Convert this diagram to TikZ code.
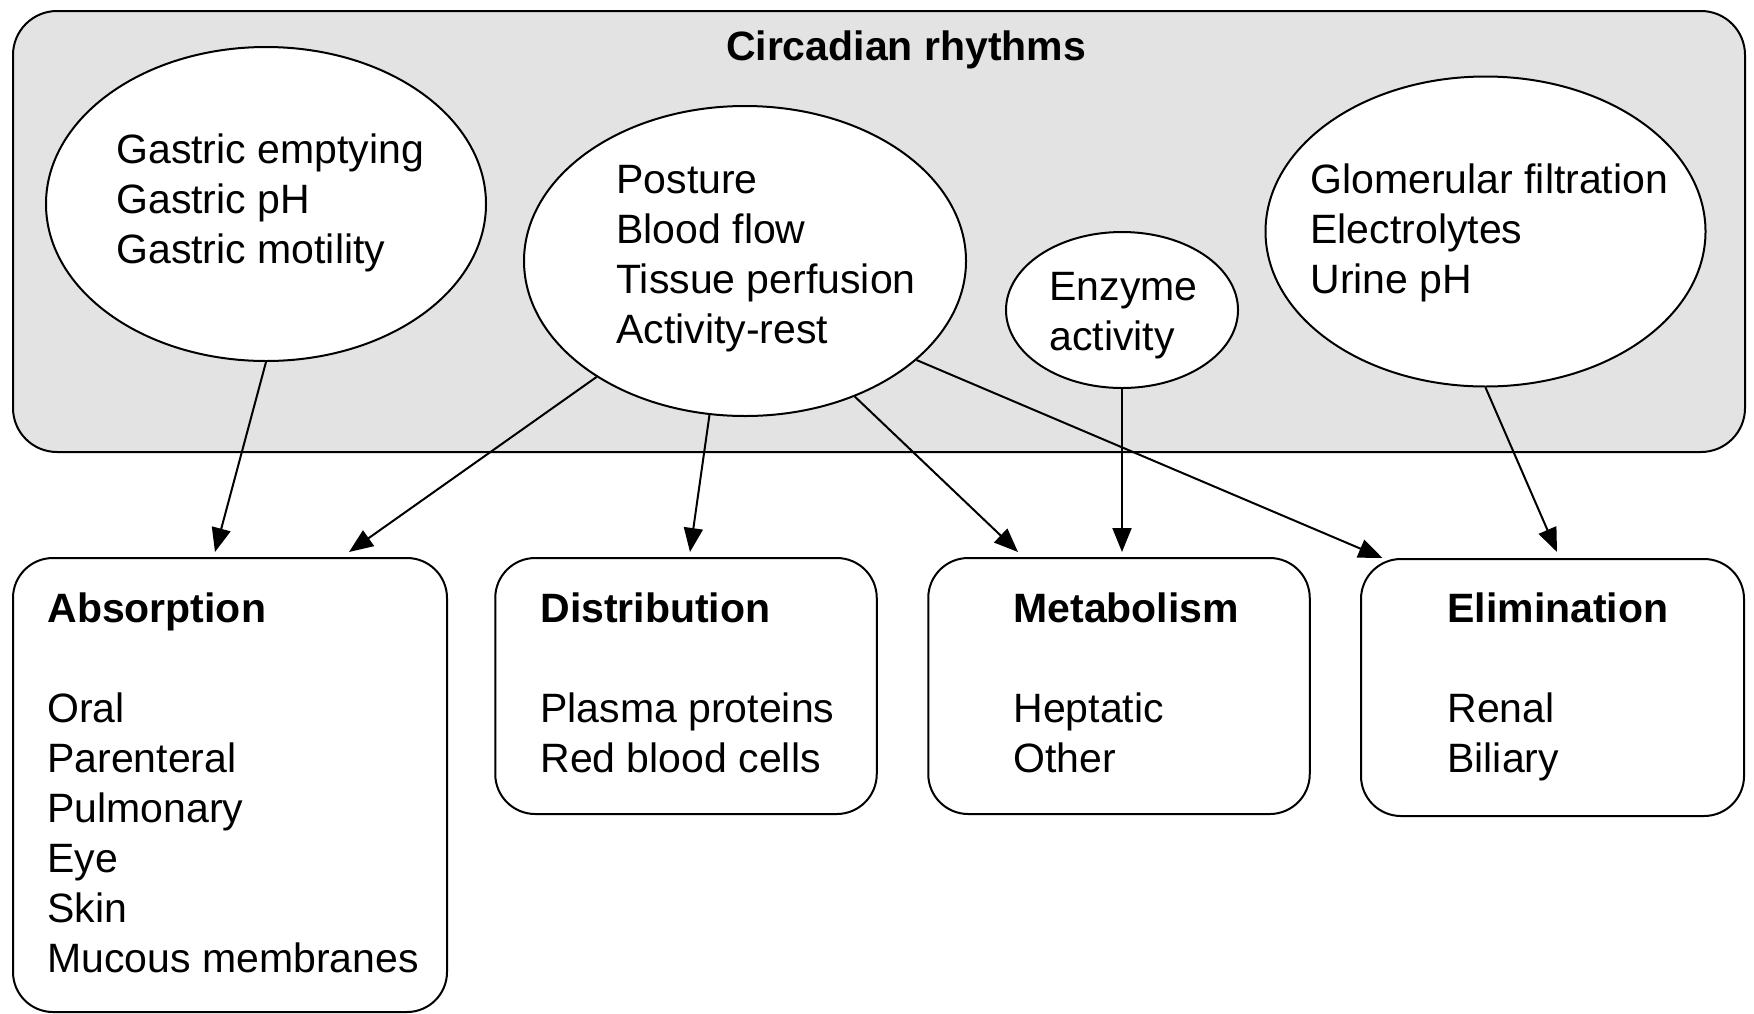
\documentclass[tikz,border=0pt]{standalone}
\usepackage{fontspec}
\setmainfont{Liberation Sans}
\usetikzlibrary{shapes.geometric,arrows.meta,calc}
\definecolor{bggrey}{RGB}{227,227,227}
\begin{document}
\begin{tikzpicture}[x=0.5pt,y=-0.5pt,
  every node/.style={font=\fontsize{20.5pt}{25pt}\selectfont},
  oval/.style={ellipse,draw,fill=white,line width=1pt,inner sep=0pt},
  stagebox/.style={rectangle,draw,fill=white,rounded corners=20pt,line width=1pt,inner sep=0pt},
  txt/.style={anchor=north west,align=left,inner sep=0pt},
  link/.style={line width=1pt,-{Triangle[length=12pt,width=9.5pt]}}
]
\useasboundingbox (0,0) rectangle (1754,1013);
% circadian panel
\node[rectangle,draw,fill=bggrey,rounded corners=22pt,line width=1pt,inner sep=0pt,
      minimum width=866pt,minimum height=220.5pt] (cr) at (879,231.5) {};
\node[anchor=base,inner sep=0pt,font={\fontsize{20.5pt}{25pt}\selectfont\bfseries}] (title) at (906,60) {Circadian rhythms};
% ellipses
\node[oval,minimum width=220pt,minimum height=157pt] (e1) at (266,204) {};
\node[oval,minimum width=221pt,minimum height=155pt] (e2) at (745,261) {};
\node[oval,minimum width=116pt,minimum height=78pt] (e3) at (1122,310) {};
\node[oval,minimum width=220pt,minimum height=155pt] (e4) at (1485.5,231.5) {};
\node[txt] (t1) at (116,131) {\rule{0pt}{16pt}Gastric emptying\\Gastric pH\\Gastric motility};
\node[txt] (t2) at (616,161) {\rule{0pt}{16pt}Posture\\Blood flow\\Tissue perfusion\\Activity-rest};
\node[txt] (t3) at (1049,268) {\rule{0pt}{16pt}Enzyme\\activity};
\node[txt] (t4) at (1310,161) {\rule{0pt}{16pt}Glomerular filtration\\Electrolytes\\Urine pH};
% stage boxes
\node[stagebox,minimum width=217pt,minimum height=227pt] (abs) at (230,785) {};
\node[stagebox,minimum width=190.75pt,minimum height=128pt] (dist) at (686,686) {};
\node[stagebox,minimum width=190.75pt,minimum height=128pt] (met) at (1119,686) {};
\node[stagebox,minimum width=191.5pt,minimum height=128.5pt] (elim) at (1552.5,687.5) {};
\node[txt] (ta) at (47,590) {\rule{0pt}{16pt}\textbf{Absorption}\\[25pt]Oral\\Parenteral\\Pulmonary\\Eye\\Skin\\Mucous membranes};
\node[txt] (td) at (540,590) {\rule{0pt}{16pt}\textbf{Distribution}\\[25pt]Plasma proteins\\Red blood cells};
\node[txt] (tm) at (1013,590) {\rule{0pt}{16pt}\textbf{Metabolism}\\[25pt]Heptatic\\Other};
\node[txt] (te) at (1447,590) {\rule{0pt}{16pt}\textbf{Elimination}\\[25pt]Renal\\Biliary};
% connectors
\draw[link] (e1.south) -- ($(abs.north)+(-15,-5)$);
\draw[link] (e2.218) -- ($(abs.north)+(119,-5)$);
\draw[link] (e2.257) -- ($(dist.north)+(4,-5)$);
\draw[link] (e2.-51) -- ($(met.north)+(-101,-5)$);
\draw[link] (e3.south) -- ($(met.north)+(3,-5)$);
\draw[link] (e2.-30) -- ($(elim.north)+(-170,0)$);
\draw[link] (e4.south) -- ($(elim.north)+(4.5,-6)$);
\end{tikzpicture}
\end{document}
